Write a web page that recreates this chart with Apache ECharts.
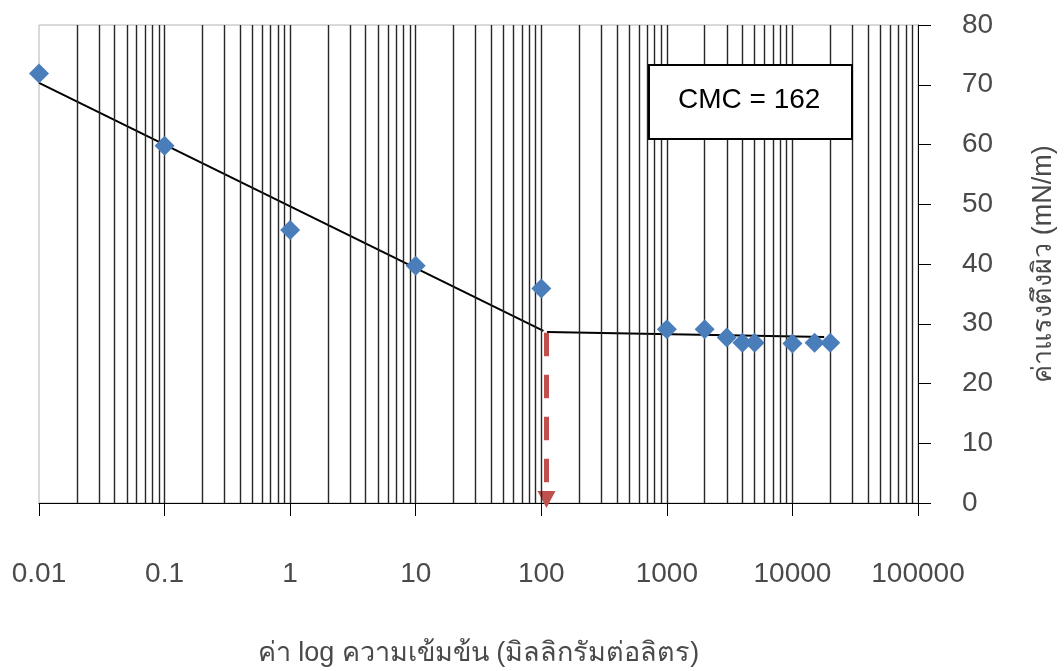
<!DOCTYPE html>
<html>
<head>
<meta charset="utf-8">
<script src="https://cdn.jsdelivr.net/npm/echarts@6/dist/echarts.min.js"></script>
<style>
html,body{margin:0;padding:0;background:#fff;}
#chart{width:1064px;height:671px;}
</style>
</head>
<body>
<div id="chart"></div>
<script>
// ---- data ----
var concentration = [0.01, 0.1, 1, 10, 100, 1000, 2000, 3000, 4000, 5000, 10000, 15000, 20000];
var surfaceTension = [71.9, 59.8, 45.7, 39.7, 35.9, 29.1, 29.1, 27.7, 26.8, 26.8, 26.7, 26.8, 26.8];
var trendDecline = [[0.01, 70.3], [104, 28.8]];
var trendPlateau = [[111, 28.6], [17900, 27.8]];
var cmcArrow = [[110, 28.5], [110, 1.5]];
var cmcArrowHead = [[110, 0.6]];
var cmcText = 'CMC = 162';
var xTickLabels = ['0.01', '0.1', '1', '10', '100', '1000', '10000', '100000'];
var yTicks = [0, 10, 20, 30, 40, 50, 60, 70, 80];
var gridMultipliers = [1, 2, 3, 4, 5, 6, 7, 8, 9];
var xName = 'ค่า log ความเข้มข้น (มิลลิกรัมต่อลิตร)';
var yName = 'ค่าแรงตึงผิว (mN/m)';

var FONT = '"Liberation Sans", Arial, "DejaVu Sans", "Noto Sans", sans-serif';

// vertical log grid lines at 1..9 x each decade
var gridValues = [];
xTickLabels.forEach(function (lab, i) {
  var dec = parseFloat(lab);
  if (i === xTickLabels.length - 1) return;
  gridMultipliers.forEach(function (m) {
    var v = +(dec * m).toPrecision(6);
    if (v > parseFloat(xTickLabels[0])) gridValues.push(v);
  });
});

var points = concentration.map(function (c, i) { return [c, surfaceTension[i]]; });

var chart = echarts.init(document.getElementById('chart'), null, {renderer: 'canvas'});
chart.setOption({
  animation: false,
  backgroundColor: '#ffffff',
  textStyle: {fontFamily: FONT},
  grid: {left: 39, right: 146, top: 25, bottom: 168, show: true, borderColor: '#b4b4b4', borderWidth: 1,
         backgroundColor: 'transparent', containLabel: false, outerBoundsMode: 'none'},
  xAxis: {
    type: 'log', logBase: 10,
    min: parseFloat(xTickLabels[0]), max: parseFloat(xTickLabels[xTickLabels.length - 1]),
    splitNumber: 7,
    axisLine: {show: true, onZero: false, lineStyle: {color: '#000', width: 1}},
    axisTick: {show: true, length: 13, lineStyle: {color: '#000', width: 1}},
    splitLine: {show: false},
    axisLabel: {
      margin: 57, fontSize: 28, color: '#4a4a4a', fontFamily: FONT,
      formatter: function (v) { var idx = Math.round(Math.log10(v)) + 2; return xTickLabels[idx] || ''; }
    },
    name: xName, nameLocation: 'middle', nameGap: 137,
    nameTextStyle: {fontSize: 27, color: '#4a4a4a', fontFamily: FONT}
  },
  yAxis: {
    type: 'value', position: 'right',
    min: yTicks[0], max: yTicks[yTicks.length - 1], interval: 10,
    axisLine: {show: true, lineStyle: {color: '#000', width: 1}},
    axisTick: {show: true, length: 13, lineStyle: {color: '#000', width: 1}},
    splitLine: {show: false},
    axisLabel: {margin: 44, fontSize: 28, color: '#4a4a4a', fontFamily: FONT, align: 'left', padding: [0, 0, 8, 0]},
    name: yName, nameLocation: 'middle', nameGap: 112, nameRotate: 90,
    nameTextStyle: {fontSize: 27, color: '#4a4a4a', fontFamily: FONT}
  },
  series: [
    {
      type: 'line', data: [], z: 1, silent: true, symbol: 'none',
      markLine: {
        silent: true, symbol: ['none', 'none'], label: {show: false}, animation: false,
        lineStyle: {color: '#262626', width: 1.4, type: 'solid'},
        data: gridValues.map(function (v) { return {xAxis: v}; })
      }
    },
    {
      type: 'line', data: trendDecline, z: 3, symbol: 'none', silent: true,
      lineStyle: {color: '#000', width: 2}
    },
    {
      type: 'line', data: trendPlateau, z: 3, symbol: 'none', silent: true,
      lineStyle: {color: '#000', width: 2}
    },
    {
      type: 'line', data: cmcArrow, z: 4, silent: true, symbol: 'none',
      lineStyle: {color: '#C0504D', width: 5, type: [23.5, 18.5]}
    },
    {
      type: 'scatter', data: cmcArrowHead, z: 4, silent: true, symbol: 'triangle', symbolRotate: 180,
      symbolSize: [18, 17], itemStyle: {color: '#C0504D', opacity: 1}, clip: false
    },
    {
      type: 'scatter', data: points, z: 5, symbol: 'diamond', symbolSize: 20,
      itemStyle: {color: '#4A7EBB', opacity: 1}
    }
  ],
  graphic: [
    {
      type: 'rect', left: 648, top: 64, z: 100,
      shape: {x: 0, y: 0, width: 203, height: 74}, style: {fill: '#fff', stroke: '#000', lineWidth: 2}
    },
    {
      type: 'text', left: 678, top: 86, z: 101,
      style: {text: cmcText, fontSize: 28, fontFamily: FONT, fill: '#000'}
    }
  ]
});
</script>
</body>
</html>
